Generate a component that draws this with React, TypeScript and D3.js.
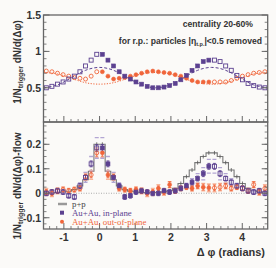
import React from 'react';
import * as d3 from 'd3';

const W = 276;
const H = 268;
const PI = Math.PI;

// 20 bins of width π/20 between 0 and π (filled points); reflected to fill -π/2..0 and π..3π/2 (open points)
const NBIN = 20;

// top panel: raw correlations
const inPlaneRaw = [0.96, 0.88, 0.8, 0.72, 0.66, 0.62, 0.58, 0.55, 0.52, 0.5, 0.5, 0.51, 0.53, 0.56, 0.61, 0.67, 0.74, 0.8, 0.86, 0.88];
const outPlaneRaw = [0.72, 0.66, 0.62, 0.63, 0.64, 0.66, 0.68, 0.7, 0.72, 0.73, 0.72, 0.71, 0.7, 0.68, 0.66, 0.63, 0.6, 0.58, 0.58, 0.58];
// flow background curves sampled every π/8 from -π/2 to 3π/2
const flowInSamples = [0.5, 0.54, 0.64, 0.74, 0.78, 0.74, 0.64, 0.54, 0.5, 0.54, 0.64, 0.74, 0.78, 0.74, 0.64, 0.54, 0.5];
const flowOutSamples = [0.71, 0.69, 0.63, 0.57, 0.55, 0.57, 0.63, 0.69, 0.71, 0.69, 0.63, 0.57, 0.55, 0.57, 0.63, 0.69, 0.71];

// bottom panel: flow-subtracted
const inPlaneSub = [0.185, 0.12, 0.065, 0.03, -0.015, -0.01, 0.005, 0.01, 0.005, 0.0, 0.0, 0.01, 0.005, 0.01, 0.02, 0.03, 0.045, 0.06, 0.08, 0.11];
const outPlaneSub = [0.165, 0.075, 0.068, 0.02, 0.015, 0.01, 0.015, 0.01, 0.0, 0.005, 0.02, 0.005, 0.035, 0.01, 0.02, 0.025, 0.02, 0.03, 0.025, 0.022];
const ppSub = [0.2, 0.09, 0.055, 0.03, 0.015, 0.008, 0.005, 0.003, 0.002, 0.002, 0.003, 0.006, 0.01, 0.02, 0.04, 0.068, 0.095, 0.125, 0.15, 0.165];
const errIn = [0.014, 0.012, 0.01, 0.01, 0.01, 0.01, 0.01, 0.01, 0.01, 0.01, 0.01, 0.01, 0.01, 0.01, 0.01, 0.01, 0.01, 0.01, 0.012, 0.012];
const errOut = [0.014, 0.012, 0.01, 0.01, 0.01, 0.01, 0.01, 0.01, 0.01, 0.01, 0.01, 0.01, 0.012, 0.01, 0.01, 0.01, 0.01, 0.01, 0.012, 0.012];
const sysIn = [0.042, 0.03, 0.02, 0.012, 0.008, 0.006, 0.005, 0.005, 0.005, 0.005, 0.005, 0.005, 0.005, 0.006, 0.008, 0.01, 0.015, 0.02, 0.025, 0.028];
const sysOut = [0.02, 0.018, 0.015, 0.01, 0.008, 0.008, 0.01, 0.012, 0.014, 0.015, 0.015, 0.014, 0.012, 0.01, 0.008, 0.008, 0.01, 0.012, 0.015, 0.016];

const xTicks = [-1, 0, 1, 2, 3, 4];
const yTopTicks = [0.5, 1, 1.5];
const yBotTicks = [-0.1, 0, 0.1, 0.2];

const PURPLE = '#5c4190';
const ORANGE = '#f0653a';
const LPURPLE = '#b3a6d3';
const LORANGE = '#f7b59a';
const BG = '#fbfaf8';
const FRAME = '#666';

const L = 43.5, R = 267.7;
const TOP1 = 15, BOT1 = 122, TOP2 = 122, BOT2 = 229;

const x = d3.scaleLinear().domain([-PI / 2, (3 * PI) / 2]).range([L, R]);
const yTop = d3.scaleLinear().domain([0.03, 1.5]).range([BOT1, TOP1]);
const yBot = d3.scaleLinear().domain([-0.146, 0.291]).range([BOT2, TOP2]);

const binW = PI / NBIN;
// full set of 40 bins with mirror index into the 0..π arrays
const fullBins = d3.range(2 * NBIN).map((k) => {
  const c = -PI / 2 + (k + 0.5) * binW;
  let i: number;
  let filled = false;
  if (k < NBIN / 2) i = NBIN / 2 - 1 - k;
  else if (k < NBIN + NBIN / 2) { i = k - NBIN / 2; filled = true; }
  else i = 2 * NBIN + NBIN / 2 - 1 - k;
  return { k, c, i, filled };
});

const sampleX = d3.range(flowInSamples.length).map((j) => -PI / 2 + (j * PI) / 8);

function Marker({ cx, cy, shape, filled, color, s }: any) {
  if (shape === 'square') {
    return (
      <rect x={cx - s / 2} y={cy - s / 2} width={s} height={s}
        fill={filled ? color : 'none'} stroke={color} strokeWidth={filled ? 0.6 : 0.9} />
    );
  }
  return (
    <circle cx={cx} cy={cy} r={s / 2} fill={filled ? color : 'none'} stroke={color} strokeWidth={filled ? 0.6 : 0.9} />
  );
}

function Frame({ top, bottom, yScale, major, minorStep, minorMin, minorMax, showXLabels }: any) {
  const xMinor = d3.range(-1.4, 4.61, 0.2).filter((v) => Math.abs(v - Math.round(v)) > 0.05);
  const yMinor = d3.range(minorMin, minorMax + 1e-9, minorStep);
  return (
    <g>
      <rect x={L} y={top} width={R - L} height={bottom - top} fill="none" stroke={FRAME} strokeWidth={1.3} />
      {xTicks.map((t) => (
        <line key={'xm' + t} x1={x(t)} x2={x(t)} y1={bottom} y2={bottom - 6} stroke={FRAME} strokeWidth={1} />
      ))}
      {xMinor.map((t, j) => (
        <line key={'xn' + j} x1={x(t)} x2={x(t)} y1={bottom} y2={bottom - 3} stroke={FRAME} strokeWidth={0.8} />
      ))}
      {yMinor.map((t: number, j: number) => (
        <g key={'yn' + j}>
          <line x1={L} x2={L + 3} y1={yScale(t)} y2={yScale(t)} stroke={FRAME} strokeWidth={0.8} />
          <line x1={R} x2={R - 3} y1={yScale(t)} y2={yScale(t)} stroke={FRAME} strokeWidth={0.8} />
        </g>
      ))}
      {major.map((t: number) => (
        <g key={'ym' + t}>
          <line x1={L} x2={L + 6} y1={yScale(t)} y2={yScale(t)} stroke={FRAME} strokeWidth={1} />
          <line x1={R} x2={R - 6} y1={yScale(t)} y2={yScale(t)} stroke={FRAME} strokeWidth={1} />
          <text x={41} y={yScale(t) + 3.8} textAnchor="end" fontSize={10.5} fontWeight="bold"
            fontFamily="Liberation Sans, Arial, sans-serif" fill="#333">{d3.format('~g')(t).replace('−', '-')}</text>
        </g>
      ))}
      {showXLabels && xTicks.map((t) => (
        <text key={'xl' + t} x={x(t)} y={bottom + 12} textAnchor="middle" fontSize={10.5} fontWeight="bold"
          fontFamily="Liberation Sans, Arial, sans-serif" fill="#333">{String(t)}</text>
      ))}
    </g>
  );
}

export default function App() {
  const flowInPath = d3.line<number>().x((_, j) => x(sampleX[j])).y((v) => yTop(v)).curve(d3.curveNatural)(flowInSamples) || '';
  const flowOutPath = d3.line<number>().x((_, j) => x(sampleX[j])).y((v) => yTop(v)).curve(d3.curveNatural)(flowOutSamples) || '';

  // p+p step histogram
  const stepPts: [number, number][] = fullBins.map((b) => [b.c - binW / 2, ppSub[b.i]]);
  stepPts.push([PI * 1.5, ppSub[fullBins[fullBins.length - 1].i]]);
  const ppPath = d3.line<[number, number]>().x((d) => x(d[0])).y((d) => yBot(d[1])).curve(d3.curveStepAfter)(stepPts) || '';

  const font = 'Liberation Sans, Arial, sans-serif';
  const serif = 'Liberation Serif, Times New Roman, serif';

  return (
    <svg width={W} height={H} style={{ position: 'absolute', left: 0, top: 0, background: BG }}>
      <rect x={0} y={0} width={W} height={H} fill={BG} />
      <defs>
        <clipPath id="c1"><rect x={L} y={TOP1} width={R - L} height={BOT1 - TOP1} /></clipPath>
        <clipPath id="c2"><rect x={L} y={TOP2} width={R - L} height={BOT2 - TOP2} /></clipPath>
      </defs>

      {/* top panel */}
      <g clipPath="url(#c1)">
        <path d={flowInPath} fill="none" stroke={PURPLE} strokeWidth={1} strokeDasharray="3,2" />
        <path d={flowOutPath} fill="none" stroke={ORANGE} strokeWidth={1} strokeDasharray="1.2,1.5" />
        {fullBins.map((b) => (
          <Marker key={'to' + b.k} cx={x(b.c)} cy={yTop(outPlaneRaw[b.i])} shape="circle" filled={b.filled} color={ORANGE} s={4} />
        ))}
        {fullBins.map((b) => (
          <Marker key={'ti' + b.k} cx={x(b.c)} cy={yTop(inPlaneRaw[b.i])} shape="square" filled={b.filled} color={PURPLE} s={4} />
        ))}
      </g>
      <Frame top={TOP1} bottom={BOT1} yScale={yTop} major={yTopTicks} minorStep={0.1} minorMin={0.1} minorMax={1.4} showXLabels={false} />

      <text x={253} y={27} textAnchor="end" fontSize={8.6} fontWeight="bold" fontFamily={font} fill="#333">centrality 20-60%</text>
      <text x={262} y={44} textAnchor="end" fontSize={8.6} fontWeight="bold" fontFamily={font} fill="#333">
        for r.p.: particles |η<tspan fontSize={5.5} dy={2}>t.p.</tspan><tspan dy={-2}>|&lt;0.5 removed</tspan>
      </text>

      {/* bottom panel */}
      <g clipPath="url(#c2)">
        <line x1={L} x2={R} y1={yBot(0)} y2={yBot(0)} stroke="#999" strokeWidth={0.8} strokeDasharray="1,1.5" />
        <path d={ppPath} fill="none" stroke="#777" strokeWidth={1.1} />
        {fullBins.filter((b) => ppSub[b.i] > 0.03).map((b) => (
          <line key={'pe' + b.k} x1={x(b.c)} x2={x(b.c)} y1={yBot(ppSub[b.i] - 0.008)} y2={yBot(ppSub[b.i] + 0.008)} stroke="#555" strokeWidth={0.8} />
        ))}
        {/* systematic bars */}
        {fullBins.map((b) => (
          <g key={'sy' + b.k}>
            {[1, -1].map((sg) => (
              <line key={'so' + sg} x1={x(b.c) - 2} x2={x(b.c) + 2} y1={yBot(outPlaneSub[b.i] + sg * sysOut[b.i])} y2={yBot(outPlaneSub[b.i] + sg * sysOut[b.i])} stroke={LORANGE} strokeWidth={1.3} />
            ))}
            {[1, -1].map((sg) => (
              <line key={'si' + sg} x1={x(b.c) - 2} x2={x(b.c) + 2} y1={yBot(inPlaneSub[b.i] + sg * sysIn[b.i])} y2={yBot(inPlaneSub[b.i] + sg * sysIn[b.i])} stroke={LPURPLE} strokeWidth={1.3} />
            ))}
          </g>
        ))}
        {/* stat errors */}
        {fullBins.map((b) => {
          const cx = x(b.c);
          const vo = outPlaneSub[b.i], eo = errOut[b.i];
          const vi = inPlaneSub[b.i], ei = errIn[b.i];
          return (
            <g key={'er' + b.k}>
              <line x1={cx} x2={cx} y1={yBot(vo - eo)} y2={yBot(vo + eo)} stroke={ORANGE} strokeWidth={0.9} />
              <line x1={cx - 1.5} x2={cx + 1.5} y1={yBot(vo - eo)} y2={yBot(vo - eo)} stroke={ORANGE} strokeWidth={0.9} />
              <line x1={cx - 1.5} x2={cx + 1.5} y1={yBot(vo + eo)} y2={yBot(vo + eo)} stroke={ORANGE} strokeWidth={0.9} />
              <line x1={cx} x2={cx} y1={yBot(vi - ei)} y2={yBot(vi + ei)} stroke={PURPLE} strokeWidth={0.9} />
              <line x1={cx - 1.5} x2={cx + 1.5} y1={yBot(vi - ei)} y2={yBot(vi - ei)} stroke={PURPLE} strokeWidth={0.9} />
              <line x1={cx - 1.5} x2={cx + 1.5} y1={yBot(vi + ei)} y2={yBot(vi + ei)} stroke={PURPLE} strokeWidth={0.9} />
            </g>
          );
        })}
        {fullBins.map((b) => (
          <Marker key={'bo' + b.k} cx={x(b.c)} cy={yBot(outPlaneSub[b.i])} shape="circle" filled={b.filled} color={ORANGE} s={4} />
        ))}
        {fullBins.map((b) => (
          <Marker key={'bi' + b.k} cx={x(b.c)} cy={yBot(inPlaneSub[b.i])} shape="square" filled={b.filled} color={PURPLE} s={4} />
        ))}
      </g>
      <Frame top={TOP2} bottom={BOT2} yScale={yBot} major={yBotTicks} minorStep={0.025} minorMin={-0.125} minorMax={0.275} showXLabels={true} />

      {/* legend */}
      <line x1={58} x2={67} y1={204} y2={204} stroke="#999" strokeWidth={2.5} />
      <text x={72} y={207} fontSize={8.8} fontFamily={serif} fill="#444">p+p</text>
      <rect x={60} y={210.7} width={4} height={4} fill={PURPLE} />
      <text x={72} y={215.8} fontSize={8.8} fontFamily={serif} fill={PURPLE}>Au+Au, in-plane</text>
      <circle cx={62} cy={221.7} r={2} fill={ORANGE} />
      <text x={72} y={224.8} fontSize={8.8} fontFamily={serif} fill={ORANGE}>Au+Au, out-of-plane</text>

      {/* axis titles */}
      <text transform="translate(21,62) rotate(-90)" textAnchor="middle" fontSize={10} fontWeight="bold" fontFamily={font} fill="#333">
        1/N<tspan fontSize={7} dy={2}>trigger</tspan><tspan dy={-2}> dN/d(Δφ)</tspan>
      </text>
      <text transform="translate(21,186) rotate(-90)" textAnchor="middle" fontSize={10} fontWeight="bold" fontFamily={font} fill="#333">
        1/N<tspan fontSize={7} dy={2}>trigger</tspan><tspan dy={-2}> dN/d(Δφ)-flow</tspan>
      </text>
      <text x={265} y={256} textAnchor="end" fontSize={11} fontWeight="bold" fontFamily={font} fill="#333">Δ φ (radians)</text>
    </svg>
  );
}
